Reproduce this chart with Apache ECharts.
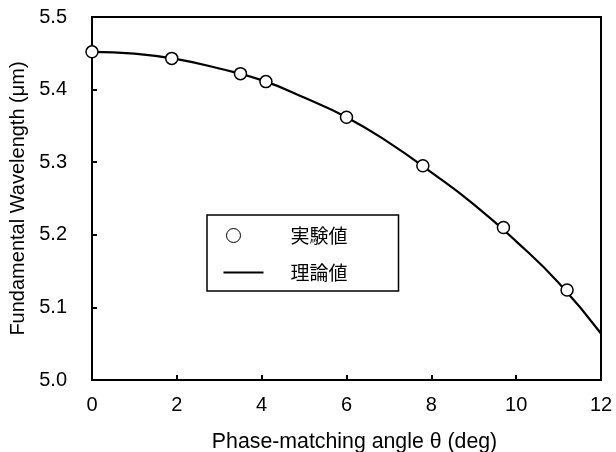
<!DOCTYPE html>
<html>
<head>
<meta charset="utf-8">
<script src="https://cdn.jsdelivr.net/npm/echarts@6/dist/echarts.min.js"></script>
<style>
html,body{margin:0;padding:0;background:#fff;}
#chart{width:616px;height:452px;}
</style>
</head>
<body>
<div id="chart"></div>
<script>
// Experimental points: [angle (deg), wavelength (um)]
const expAngles = [0, 1.88, 3.5, 4.1, 6.0, 7.8, 9.7, 11.2];
const expValues = [5.452, 5.443, 5.422, 5.411, 5.362, 5.295, 5.210, 5.124];
// Theoretical curve read at each degree
const theoryAngles = [0, 1, 2, 3, 4, 5, 6, 7, 8, 9, 10, 11, 12];
const theoryValues = [5.452, 5.4495, 5.442, 5.429, 5.413, 5.389, 5.362, 5.327, 5.286, 5.242, 5.191, 5.134, 5.064];
const legendNames = ['実験値', '理論値'];
const xTitle = 'Phase-matching angle θ (deg)';
const yTitle = 'Fundamental Wavelength (μm)';

const FONT = "'Liberation Sans', Arial, sans-serif";
const chart = echarts.init(document.getElementById('chart'), null, {renderer: 'canvas'});
chart.setOption({
  animation: false,
  backgroundColor: '#fff',
  textStyle: {fontFamily: FONT, color: '#000'},
  grid: {left: 92, right: 15, top: 17, bottom: 72, outerBoundsMode: 'none', containLabel: false,
         show: true, borderColor: '#000', borderWidth: 2, backgroundColor: 'transparent'},
  legend: {
    orient: 'vertical',
    left: 207, top: 215,
    padding: [11, 51, 9, 16],
    itemGap: 18,
    itemWidth: 40, itemHeight: 14,
    borderColor: '#000', borderWidth: 1.5, borderRadius: 0,
    backgroundColor: '#fff',
    textStyle: {fontFamily: "'Noto Sans CJK JP', sans-serif", fontSize: 19, color: '#000', padding: [0, 0, 0, 22]},
    data: [
      {name: legendNames[0], icon: 'path://M3,7A7,7 0 1,1 17,7A7,7 0 1,1 3,7ZM0,0M40,14',
       itemStyle: {color: '#fff', borderColor: '#000', borderWidth: 1}},
      {name: legendNames[1], icon: 'path://M0,6H40V8H0ZM0,0M40,14',
       itemStyle: {color: '#000', borderWidth: 0}}
    ]
  },
  xAxis: {
    type: 'value', min: 0, max: 12, interval: 2,
    name: xTitle, nameLocation: 'middle', nameGap: 52,
    nameTextStyle: {fontFamily: FONT, fontSize: 21.3, color: '#000', padding: [0, 0, 0, 16]},
    axisLine: {show: true, lineStyle: {color: '#000', width: 2}},
    axisTick: {show: true, inside: true, length: 5, lineStyle: {color: '#000', width: 2}},
    axisLabel: {fontFamily: FONT, fontSize: 20, color: '#000', margin: 15},
    splitLine: {show: false}
  },
  yAxis: {
    type: 'value', min: 5.0, max: 5.5, interval: 0.1,
    name: yTitle, nameLocation: 'middle', nameGap: 53,
    nameTextStyle: {fontFamily: FONT, fontSize: 20, color: '#000'},
    axisLine: {show: true, lineStyle: {color: '#000', width: 2}},
    axisTick: {show: true, inside: true, length: 5, lineStyle: {color: '#000', width: 2}},
    axisLabel: {fontFamily: FONT, fontSize: 20, color: '#000', margin: 25, formatter: v => v.toFixed(1)},
    splitLine: {show: false}
  },
  series: [
    {
      name: legendNames[1], type: 'line', smooth: true, symbol: 'none',
      data: theoryAngles.map((a, i) => [a, theoryValues[i]]),
      lineStyle: {color: '#000', width: 2.2},
      itemStyle: {color: '#000'},
      z: 2
    },
    {
      name: legendNames[0], type: 'scatter', symbol: 'circle', symbolSize: 12,
      data: expAngles.map((a, i) => [a, expValues[i]]),
      itemStyle: {color: '#fff', borderColor: '#000', borderWidth: 1.5, opacity: 1},
      z: 3
    }
  ]
});
</script>
</body>
</html>
